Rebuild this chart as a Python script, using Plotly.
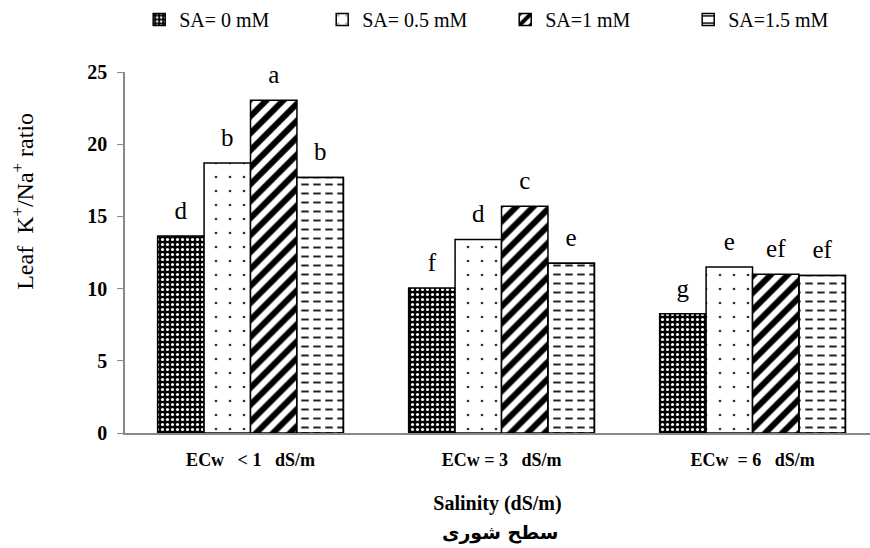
import plotly.graph_objects as go

categories = ["ECw\u00a0\u00a0\u00a0<\u00a01\u00a0\u00a0\u00a0dS/m",
              "ECw\u00a0=\u00a03\u00a0\u00a0\u00a0dS/m",
              "ECw\u00a0\u00a0=\u00a06\u00a0\u00a0\u00a0dS/m"]
series_names = ["SA= 0 mM", "SA= 0.5 mM", "SA=1 mM", "SA=1.5 mM"]
sa0 = [13.65, 10.05, 8.25]
sa05 = [18.7, 13.4, 11.5]
sa1 = [23.05, 15.7, 11.0]
sa15 = [17.7, 11.75, 10.9]
letters_sa0 = ["d", "f", "g"]
letters_sa05 = ["b", "d", "e"]
letters_sa1 = ["a", "c", "ef"]
letters_sa15 = ["b", "e", "ef"]
x_title = "Salinity (dS/m)"
x_title_fa = "سطح شوری"
y_title = "Leaf\u00a0\u00a0K<sup>+</sup>/Na<sup>+</sup>\u00a0ratio"

xpos = [0, 1, 2]
serif = "Liberation Serif"

styles = [
    dict(shape=".", fgcolor="white", bgcolor="black", size=5, solidity=0.3, fgopacity=1),
    dict(shape=".", fgcolor="#333333", bgcolor="white", size=14, solidity=0.03, fgopacity=1),
    dict(shape="/", fgcolor="black", bgcolor="white", size=12, solidity=0.5, fgopacity=1),
    dict(shape="-", fgcolor="#222222", bgcolor="white", size=9, solidity=0.22, fgopacity=1),
]

fig = go.Figure()
all_vals = [sa0, sa05, sa1, sa15]
all_letters = [letters_sa0, letters_sa05, letters_sa1, letters_sa15]
for i, (name, vals, st) in enumerate(zip(series_names, all_vals, styles)):
    fig.add_trace(go.Bar(
        x=xpos, y=vals, name=name, offsetgroup=str(i),
        marker=dict(color="white", line=dict(color="black", width=1.5), pattern=st),
    ))
# white vertical breaks turning the horizontal lines of the last series into dashes
fig.add_trace(go.Bar(
    x=xpos, y=sa15, name=series_names[3], offsetgroup="3", showlegend=False,
    hoverinfo="skip",
    marker=dict(color="rgba(0,0,0,0)", line=dict(color="black", width=1.5),
                pattern=dict(shape="|", fgcolor="white", bgcolor="rgba(0,0,0,0)",
                             size=12, solidity=0.38, fgopacity=1)),
))
for i, (name, vals, letters) in enumerate(zip(series_names, all_vals, all_letters)):
    fig.add_trace(go.Scatter(
        x=xpos, y=vals, mode="markers+text", text=letters, offsetgroup=str(i),
        textposition="top center", showlegend=False, hoverinfo="skip",
        marker=dict(size=16, opacity=0),
        textfont=dict(family=serif, size=25, color="black"),
        cliponaxis=False,
    ))

fig.update_layout(
    width=870, height=548,
    margin=dict(l=125, r=0, t=72, b=115, autoexpand=False),
    plot_bgcolor="white", paper_bgcolor="white",
    barmode="group", bargap=0.26, bargroupgap=0,
    scattermode="group", scattergap=0.26,
    font=dict(family=serif, size=16, color="black"),
    legend=dict(orientation="h", xref="container", yref="container",
                x=0.16, y=1.0, xanchor="left", yanchor="top",
                font=dict(family=serif, size=20), traceorder="normal",
                entrywidth=138, entrywidthmode="pixels", itemwidth=30),
    showlegend=True,
    annotations=[
        dict(text=x_title_fa, xref="paper", yref="paper", x=0.503, y=-0.277,
             xanchor="center", yanchor="middle", showarrow=False,
             font=dict(family="DejaVu Sans", size=19, weight="bold")),
        dict(text=y_title, xref="paper", yref="paper", x=-0.137, y=0.643,
             xanchor="center", yanchor="middle", showarrow=False, textangle=-90,
             font=dict(family=serif, size=24)),
    ],
)
fig.update_xaxes(
    tickvals=xpos, ticktext=categories,
    range=[-0.5, 2.468], showline=True, linecolor="#888888", linewidth=1.5,
    ticks="", showgrid=False, zeroline=False, automargin=False,
    ticklabelstandoff=10,
    tickfont=dict(family=serif, size=18, weight="bold"),
    title=dict(text=x_title, font=dict(family=serif, size=20, weight="bold"), standoff=27),
)
fig.update_yaxes(
    range=[0, 25], dtick=5, showline=True, linecolor="#888888", linewidth=1.5,
    ticks="outside", ticklen=6, tickcolor="#888888", showgrid=False, zeroline=False,
    automargin=False, ticklabelstandoff=6,
    tickfont=dict(family=serif, size=20, weight="bold"),
)

fig.write_html("out.html", config={"displayModeBar": False},
               post_script="document.body.style.margin='0';")
